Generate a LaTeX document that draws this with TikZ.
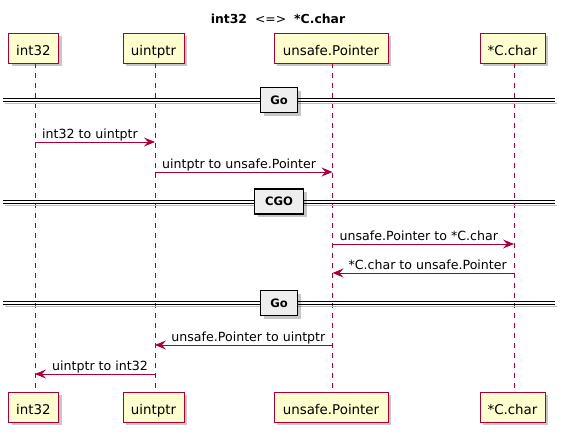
\documentclass[tikz,border=0pt]{standalone}
\usepackage{fontspec}
\setmainfont{DejaVu Sans}
\usetikzlibrary{arrows.meta,shadows,calc}
\definecolor{pborder}{HTML}{A80036}
\definecolor{pfill}{HTML}{FEFECE}
\definecolor{dfill}{HTML}{EEEEEE}
\tikzset{
  part/.style={draw=pborder, fill=pfill, line width=0.9pt, minimum height=30pt, inner sep=0pt,
    text height=14pt, text depth=0pt, font=\fontsize{13.4}{16}\selectfont,
    drop shadow={shadow xshift=3pt, shadow yshift=-3pt, fill=black, opacity=0.22}},
  life/.style={draw=pborder, line width=0.9pt, dash pattern=on 5pt off 5pt},
  msg/.style={draw=pborder, line width=1pt, -{Stealth[length=11pt,width=9pt,inset=4pt]}},
  lbl/.style={inner sep=0pt, font=\fontsize{12.6}{15}\selectfont},
  divline/.style={draw=black, line width=1pt},
  divshadow/.style={draw=black!25, line width=1pt},
  divbox/.style={draw=black, fill=dfill, line width=1.6pt, minimum height=25pt, inner sep=0pt,
    font=\bfseries\fontsize{11.6}{14}\selectfont,
    drop shadow={shadow xshift=3pt, shadow yshift=-3pt, fill=black, opacity=0.22}},
}
\begin{document}
\begin{tikzpicture}[x=1pt,y=-1pt]
\useasboundingbox (0,0) rectangle (565,432);
% title
\node[inner sep=0pt, anchor=base, font=\fontsize{12.4}{15}\selectfont] (title) at (278,23)
  {\textbf{int32}\hspace{8pt}<=>\hspace{8pt}\textbf{*C.char}};
% participants
\node[part, minimum width=50pt] (t1) at (33.5,48) {int32};
\node[part, minimum width=61pt] (t2) at (153.5,48) {uintptr};
\node[part, minimum width=114pt] (t3) at (331,48) {unsafe.Pointer};
\node[part, minimum width=65pt] (t4) at (512.5,48) {*C.char};
\node[part, minimum width=50pt] (b1) at (33.5,407) {int32};
\node[part, minimum width=61pt] (b2) at (153.5,407) {uintptr};
\node[part, minimum width=114pt] (b3) at (331,407) {unsafe.Pointer};
\node[part, minimum width=65pt] (b4) at (512.5,407) {*C.char};
% lifelines
\coordinate (L1) at ([xshift=1.5pt]t1.south);
\coordinate (L2) at ([xshift=1.5pt]t2.south);
\coordinate (L3) at ([xshift=1.5pt]t3.south);
\coordinate (L4) at ([xshift=1.5pt]t4.south);
\draw[life] (L1) -- (L1 |- b1.north);
\draw[life] (L2) -- (L2 |- b2.north);
\draw[life] (L3) -- (L3 |- b3.north);
\draw[life] (L4) -- (L4 |- b4.north);
% dividers
\foreach \dy/\nm/\w/\lab in {100/d1/37/Go, 201.5/d2/49/CGO, 303/d3/37/Go}{
  \draw[divshadow] (5,\dy+3.5) -- (557,\dy+3.5);
  \draw[divline] (3,\dy-1.5) -- (555,\dy-1.5);
  \draw[divline] (3,\dy+1.5) -- (555,\dy+1.5);
  \node[divbox, minimum width=\w pt] (\nm) at (279,\dy) {\lab};
}
% message rows
\coordinate (r1) at (0,142);
\coordinate (r2) at (0,172);
\coordinate (r3) at (0,244);
\coordinate (r4) at (0,273);
\coordinate (r5) at (0,345);
\coordinate (r6) at (0,374);
\draw[msg] (L1 |- r1) -- (L2 |- r1);
\node[lbl, anchor=base west] (m1) at ($(L1 |- r1)+(7,-4)$) {int32 to uintptr};
\draw[msg] (L2 |- r2) -- (L3 |- r2);
\node[lbl, anchor=base west] (m2) at ($(L2 |- r2)+(7,-4)$) {uintptr to unsafe.Pointer};
\draw[msg] (L3 |- r3) -- (L4 |- r3);
\node[lbl, anchor=base west] (m3) at ($(L3 |- r3)+(7,-4)$) {unsafe.Pointer to *C.char};
\draw[msg] (L4 |- r4) -- (L3 |- r4);
\node[lbl, anchor=base east] (m4) at ($(L4 |- r4)+(-7,-4)$) {*C.char to unsafe.Pointer};
\draw[msg] (L3 |- r5) -- (L2 |- r5);
\node[lbl, anchor=base east] (m5) at ($(L3 |- r5)+(-7,-4)$) {unsafe.Pointer to uintptr};
\draw[msg] (L2 |- r6) -- (L1 |- r6);
\node[lbl, anchor=base east] (m6) at ($(L2 |- r6)+(-7,-4)$) {uintptr to int32};
\end{tikzpicture}
\end{document}
